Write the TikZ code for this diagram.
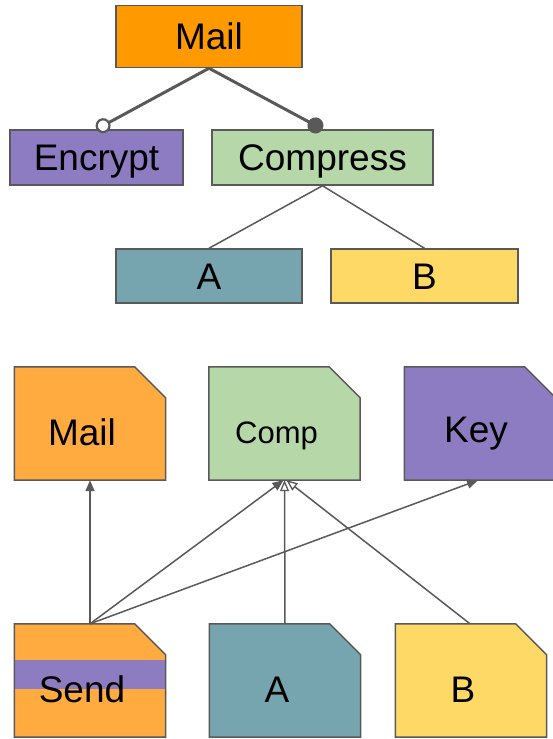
\documentclass[tikz,border=0pt]{standalone}
\usepackage{fontspec}
\setmainfont{Liberation Sans}
\usetikzlibrary{arrows.meta,backgrounds}

\definecolor{mailorange}{HTML}{FF9900}
\definecolor{docorange}{HTML}{FFAB40}
\definecolor{encpurple}{HTML}{8E7CC3}
\definecolor{compgreen}{HTML}{B6D7A8}
\definecolor{ateal}{HTML}{76A5AF}
\definecolor{byellow}{HTML}{FFD966}
\definecolor{edgegray}{HTML}{595959}

% outline of a document with a folded (cut) top-right corner
\newcommand\docoutline[2]{%
  \draw[docedge, fill=#2] (#1.north west) -- ([xshift=-31pt]#1.north east)
    -- ([yshift=-31pt]#1.north east) -- (#1.south east) -- (#1.south west) -- cycle;}

\begin{document}
\begin{tikzpicture}[x=1pt, y=-1pt,
  txt/.style={font=\fontsize{37}{40}\selectfont, text height=26.5pt, text depth=0pt, inner sep=0pt},
  box/.style={draw=edgegray, line width=1.5pt, minimum width=#1, minimum height=55pt, inner sep=0pt, txt},
  doc/.style={minimum width=151pt, minimum height=113pt, inner sep=0pt},
  doclabel/.style={txt, xshift=-8pt, yshift=-9pt},
  docedge/.style={draw=edgegray, line width=1.5pt, line join=miter},
  featline/.style={draw=edgegray, line width=3pt},
  subline/.style={draw=edgegray, line width=1.5pt},
  dep/.style={draw=edgegray, line width=1.5pt, -{Triangle[length=11pt, width=9pt]}},
  opendep/.style={draw=edgegray, line width=1.5pt, -{Triangle[open, fill=white, length=11pt, width=9pt, line width=1.3pt]}},
]
\useasboundingbox (0,0) rectangle (553,739);

% feature tree
\node[box=186pt, fill=mailorange, minimum height=62pt] (mail) at (209,36.5) {Mail};
\node[box=173pt, fill=encpurple] (enc) at (96.5,157.5) {Encrypt};
\node[box=221pt, fill=compgreen] (comp) at (322.5,157.5) {Compress};
\node[box=186pt, fill=ateal, minimum height=54pt] (a) at (209,276) {A};
\node[box=187pt, fill=byellow, minimum height=54pt] (b) at (424.5,276) {B};

\draw[featline, -{Circle[fill=white, length=15pt, line width=2.2pt]}] (mail.south) -- (enc.north);
\draw[featline, -{Circle[length=16pt]}] (mail.south) -- (comp.north);
\draw[subline] (comp.south) -- (a.north);
\draw[subline] (comp.south) -- (b.north);

% artefacts
\node[doc, label={[doclabel]center:Mail}] (mailDoc) at (90,423.5) {};
\node[doc, label={[doclabel, font=\fontsize{31}{34}\selectfont, text height=22pt]center:Comp}] (compDoc) at (284.5,423.5) {};
\node[doc, label={[doclabel, xshift=4pt, yshift=3pt]center:Key}] (keyDoc) at (480,423.5) {};
\node[doc, label={[doclabel]center:Send}] (sendDoc) at (90,680.5) {};
\node[doc, label={[doclabel]center:A}] (aDoc) at (285,680.5) {};
\node[doc, label={[doclabel]center:B}] (bDoc) at (471,680.5) {};

\begin{scope}[on background layer]
  \docoutline{mailDoc}{docorange}
  \docoutline{compDoc}{compgreen}
  \docoutline{keyDoc}{encpurple}
  \docoutline{aDoc}{ateal}
  \docoutline{bDoc}{byellow}
  \fill[docorange] (sendDoc.north west) -- ([xshift=-31pt]sendDoc.north east)
    -- ([yshift=-31pt]sendDoc.north east) -- (sendDoc.south east) -- (sendDoc.south west) -- cycle;
  \fill[encpurple] ([yshift=-36pt]sendDoc.north west) rectangle ([yshift=-65pt]sendDoc.north east);
  \draw[docedge] (sendDoc.north west) -- ([xshift=-31pt]sendDoc.north east)
    -- ([yshift=-31pt]sendDoc.north east) -- (sendDoc.south east) -- (sendDoc.south west) -- cycle;
\end{scope}

% dependencies
\draw[dep] (sendDoc.north) -- (mailDoc.south);
\draw[dep] (sendDoc.north) -- ([xshift=-1pt]compDoc.south);
\draw[dep] (sendDoc.north) -- ([xshift=-2pt]keyDoc.south);
\draw[opendep] (aDoc.north) -- (compDoc.south);
\draw[opendep] ([xshift=-1pt]bDoc.north) -- ([xshift=2pt]compDoc.south);
\end{tikzpicture}
\end{document}
